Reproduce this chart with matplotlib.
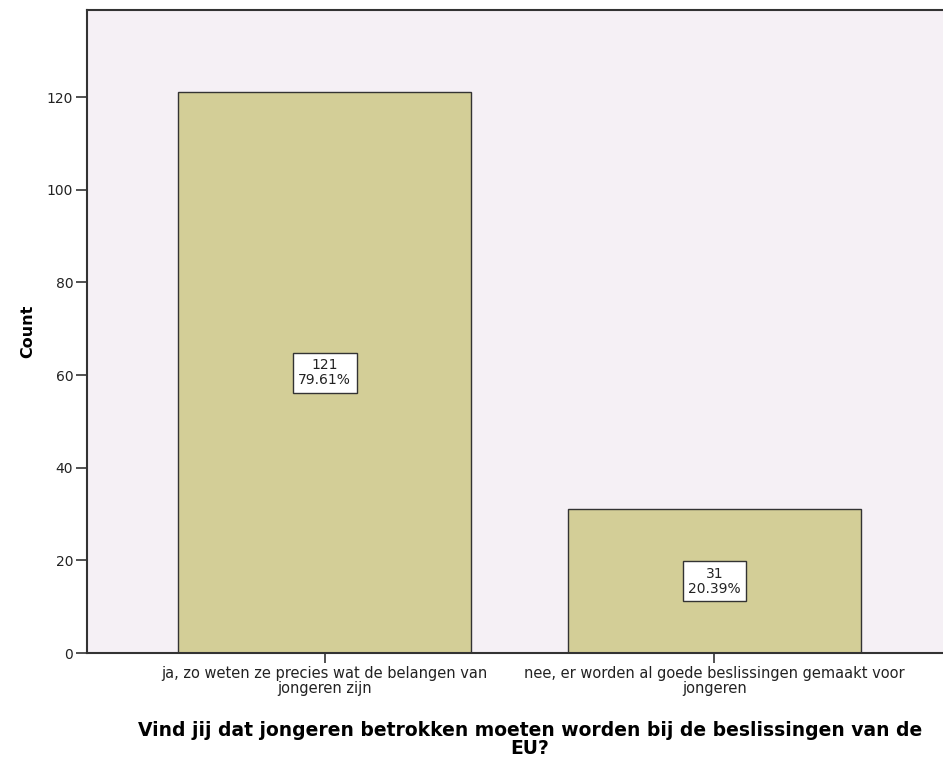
import numpy as np
import matplotlib.pyplot as plt

categories = ["ja, zo weten ze precies wat de belangen van\njongeren zijn",
              "nee, er worden al goede beslissingen gemaakt voor\njongeren"]
counts = [121, 31]
percents = [79.61, 20.39]
yticks = [0, 20, 40, 60, 80, 100, 120]

fig = plt.figure(figsize=(9.43, 7.65), dpi=100)
ax = fig.add_axes([0.0923, 0.1464, 0.9077, 0.8406])
ax.set_facecolor("#F5F0F5")

x = np.arange(len(categories))
ax.bar(x, counts, width=0.751, color="#D3CE97", edgecolor="#333333", linewidth=1.0, zorder=2)

for xi, c, p in zip(x, counts, percents):
    ax.text(xi, c / 2, f"{c}\n{p:.2f}%", ha="center", va="center", fontsize=10,
            family="DejaVu Sans", linespacing=1.1, zorder=3, color="#222222",
            bbox=dict(boxstyle="square,pad=0.4", facecolor="white", edgecolor="#333333", linewidth=1.0))

ax.set_xlim(-0.609, 1.586)
ax.set_ylim(0, 138.8)
ax.set_yticks(yticks)
ax.set_xticks(x)
ax.set_xticklabels(categories, fontsize=10.5, family="DejaVu Sans", linespacing=1.0, color="#222222")
ax.tick_params(axis="y", labelsize=10, length=8, width=1.2, color="#333333", pad=2, labelcolor="#222222")
ax.tick_params(axis="x", length=7, width=1.2, color="#333333", pad=2)

for side in ["left", "bottom", "top"]:
    ax.spines[side].set_color("#333333")
    ax.spines[side].set_linewidth(1.5)
ax.spines["right"].set_visible(False)

ax.set_ylabel("Count", fontsize=11.5, fontweight="bold", labelpad=8)
ax.set_xlabel("Vind jij dat jongeren betrokken moeten worden bij de beslissingen van de\nEU?",
              fontsize=13.5, fontweight="bold", linespacing=0.95)
ax.xaxis.set_label_coords(0.5175, -0.105)

fig.savefig("out.png", dpi=100)
